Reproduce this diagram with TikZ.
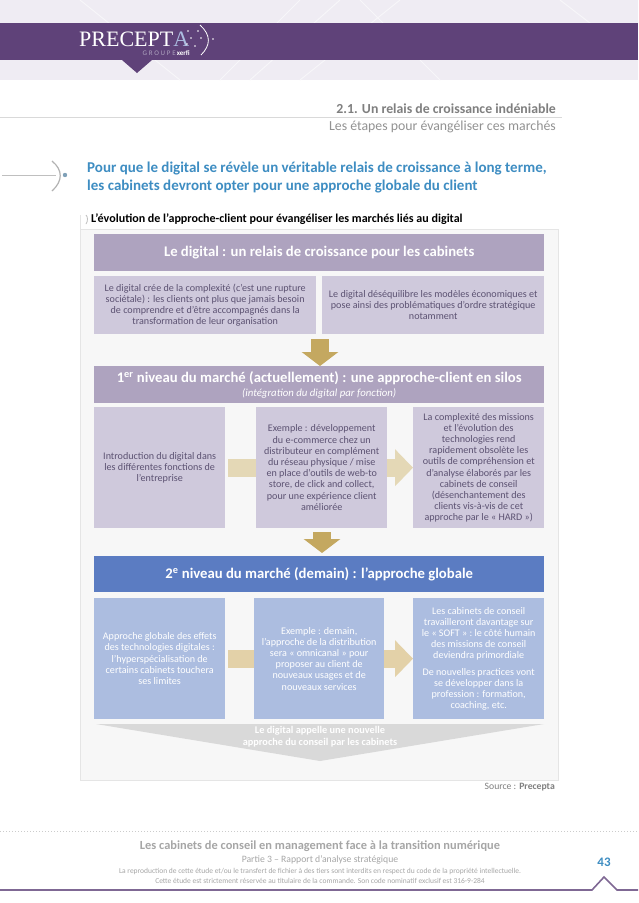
\documentclass[tikz,border=0pt]{standalone}
\usepackage{fontspec}
\setmainfont{Carlito}
\newfontfamily\logofont{Liberation Serif}
\usetikzlibrary{arrows.meta,positioning,calc}

\definecolor{bandpurple}{HTML}{5F4279}
\definecolor{headpale}{HTML}{EFECF3}
\definecolor{mauvedark}{HTML}{AEA3BF}
\definecolor{mauvelight}{HTML}{CFC9DC}
\definecolor{bluedark}{HTML}{5B7CC2}
\definecolor{bluelight}{HTML}{ACBDE0}
\definecolor{goldfull}{HTML}{C4A860}
\definecolor{goldpale}{HTML}{E4D8B6}
\definecolor{goldmid}{HTML}{E3D1A8}
\definecolor{titleblue}{HTML}{3E8DC2}
\definecolor{mauvetext}{HTML}{5C5272}
\definecolor{greytext}{HTML}{7F7F7F}
\definecolor{footgrey}{HTML}{A6A6A6}

\tikzset{
    x=1pt, y=-1pt,
    band/.style={anchor=north west, inner sep=0pt, minimum width=450pt, minimum height=37pt, fill=mauvedark,
        text=white, align=center, font=\fontsize{14.7}{15}\selectfont\bfseries},
    pale/.style={anchor=north west, inner sep=0pt, fill=mauvelight, text=mauvetext, align=center,
        font=\fontsize{10.1}{11.2}\selectfont},
    paleblue/.style={pale, fill=bluelight, text=white},
    downarrow/.style={draw=goldfull, line width=18pt, -{Triangle[width=36pt,length=14pt,color=goldfull]}},
    sidearrow/.style={line width=18pt, -{Triangle[width=36pt,length=18pt]}},
    plainarrow/.style={line width=18pt},
    foot/.style={text=footgrey, align=center}
}

\begin{document}
\begin{tikzpicture}
    \useasboundingbox (0,0) rectangle (638,903);
    \fill[white] (0,0) rectangle (638,903);

    % Header
    \fill[headpale] (0,0) rectangle (638,80);
    \draw[white!50!headpale, line width=1pt] (80,0) -- (180,80) (300,0) -- (220,80) (250,80) -- (340,0) (300,80) -- (400,0) (360,0) -- (440,80) (560,0) -- (638,60);
    \fill[bandpurple] (0,22.5) rectangle (638,60);
    \fill[bandpurple] (122,60) -- (152,60) -- (137,73) -- cycle;
    \node[anchor=west, inner sep=0pt, text=white, font=\logofont\fontsize{22}{24}\selectfont] (logo) at (79,39.5) {PRECEPT\textcolor{bluelight}{A}};
    \node[anchor=east, inner sep=0pt, font=\fontsize{7}{8}\selectfont] (group) at (190,53.5) {\textcolor{mauvedark}{\addfontfeature{LetterSpace=25}GROUPE}\,\textcolor{white}{\textbf{xerfi}}};
    \draw[white, line width=0.8pt] (200,25) .. controls (211,35) and (211,45) .. (201,55);
    \foreach \x/\y in {188/31, 198/31, 191/38, 201/38, 195/46, 187/44, 213/39}
        \fill[white] (\x,\y) circle (0.9);

    % Section title
    \draw[black!15] (0,117) -- (562,117);
    \node[anchor=east, inner sep=0pt, text=greytext, font=\fontsize{13.8}{15}\selectfont\bfseries] (section) at (556,108.5) {2.1. Un relais de croissance indéniable};
    \node[anchor=east, inner sep=0pt, text=greytext!85, font=\fontsize{13.8}{15}\selectfont] (subsection) at (556,127) {Les étapes pour évangéliser ces marchés};

    % Lead text
    \draw[black!25] (2,175) -- (56,175);
    \draw[black!30, line width=1.2pt] (52,161) .. controls (63,170) and (63,181) .. (52,191);
    \fill[titleblue!70!black!60] (65,175) circle (2.2);
    \node[anchor=north west, inner sep=0pt, text=titleblue, align=left, font=\fontsize{15}{18}\selectfont\bfseries] (lead) at (87,162)
        {Pour que le digital se révèle un véritable relais de croissance à long terme,\\les cabinets devront opter pour une approche globale du client};
    \node[anchor=west, inner sep=0pt, font=\fontsize{12.05}{14}\selectfont\bfseries] (caption) at (91,219) {L’évolution de l’approche-client pour évangéliser les marchés liés au digital};
    \draw[black!25, line width=0.8pt] (86,215) .. controls (88,217) and (88,221) .. (86,224);

    % Main panel
    \fill[black!3] (80,229) rectangle (558,780);
    \draw[black!10] (80,215) -- (80,780) -- (558,780) -- (558,229) -- (80,229);

    % First level
    \node[band] (relais) at (94,234) {Le digital : un relais de croissance pour les cabinets};
    \node[pale, minimum width=222pt, minimum height=58pt] (complexite) at (94,276)
        {Le digital crée de la complexité (c’est une rupture\\sociétale) : les clients ont plus que jamais besoin\\de comprendre et d’être accompagnés dans la\\transformation de leur organisation};
    \node[pale, minimum width=222pt, minimum height=58pt] (modeles) at (322,276)
        {Le digital déséquilibre les modèles économiques et\\pose ainsi des problématiques d’ordre stratégique\\notamment};

    % Second level
    \node[band] (silos) at (94,366) {1\textsuperscript{er} niveau du marché (actuellement) : une approche-client en silos\\[-1pt]
        {\fontsize{10.8}{11}\selectfont\mdseries\itshape (intégration du digital par fonction)}};
    \node[pale, minimum width=131pt, minimum height=121pt] (intro) at (94,407)
        {Introduction du digital dans\\les différentes fonctions de\\l’entreprise};
    \node[pale, minimum width=131pt, minimum height=121pt] (exemple) at (256,407)
        {Exemple : développement\\du e-commerce chez un\\distributeur en complément\\du réseau physique / mise\\en place d’outils de web-to\\store, de click and collect,\\pour une expérience client\\améliorée};
    \node[pale, minimum width=131pt, minimum height=121pt] (hard) at (413,407)
        {La complexité des missions\\et l’évolution des\\technologies rend\\rapidement obsolète les\\outils de compréhension et\\d’analyse élaborés par les\\cabinets de conseil\\(désenchantement des\\clients vis-à-vis de cet\\approche par le « HARD »)};

    % Third level
    \node[band, fill=bluedark, minimum height=36pt] (globale) at (94,556) {2\textsuperscript{e} niveau du marché (demain) : l’approche globale};
    \node[paleblue, minimum width=131pt, minimum height=121pt] (effets) at (94,598)
        {Approche globale des effets\\des technologies digitales :\\l’hyperspécialisation de\\certains cabinets touchera\\ses limites};
    \node[paleblue, minimum width=130pt, minimum height=121pt] (omnicanal) at (254,598)
        {Exemple : demain,\\l’approche de la distribution\\sera « omnicanal » pour\\proposer au client de\\nouveaux usages et de\\nouveaux services};
    \node[paleblue, minimum width=131pt, minimum height=121pt] (soft) at (413,598)
        {Les cabinets de conseil\\travailleront davantage sur\\le « SOFT » : le côté humain\\des missions de conseil\\deviendra primordiale\\[5pt]De nouvelles practices vont\\se développer dans la\\profession : formation,\\coaching, etc.};

    % Arrows
    \coordinate (dropa) at (320,334);
    \coordinate (dropb) at (322,528);
    \draw[downarrow, shorten <=5pt] (dropa) -- (dropa |- silos.north);
    \draw[downarrow, line width=18pt, shorten <=4pt, shorten >=3pt] (dropb) -- (dropb |- globale.north);
    \draw[plainarrow, goldpale, shorten <=3pt] (intro.east) -- (exemple.west);
    \draw[sidearrow, goldpale] (exemple.east) -- (hard.west);
    \draw[plainarrow, goldmid, shorten <=3pt] (effets.east) -- (omnicanal.west);
    \draw[sidearrow, goldmid] (omnicanal.east) -- (soft.west);

    % Conclusion
    \fill[black!15] (96,724) -- (544,724) -- (320,761) -- cycle;
    \node[anchor=north, inner sep=0pt, text=white, align=center, font=\fontsize{10.3}{12.3}\selectfont\bfseries] (appel) at (320,726)
        {Le digital appelle une nouvelle\\approche du conseil par les cabinets};
    \node[anchor=east, inner sep=0pt, text=greytext, font=\fontsize{9.7}{11}\selectfont] (source) at (555,787) {Source : \textbf{Precepta}};

    % Footer
    \draw[black!20, line width=1pt, dotted] (0,831) -- (638,831);
    \node[foot, inner sep=0pt, font=\fontsize{12.4}{14}\selectfont\bfseries] (etude) at (320,846) {Les cabinets de conseil en management face à la transition numérique};
    \node[foot, inner sep=0pt, font=\fontsize{9.7}{11}\selectfont] (partie) at (320,860) {Partie 3 – Rapport d’analyse stratégique};
    \foreach \y/\name/\txt in {871/droitsa/{La reproduction de cette étude et/ou le transfert de fichier à des tiers sont interdits en respect du code de la propriété intellectuelle.}, 881/droitsb/{Cette étude est strictement réservée au titulaire de la commande. Son code nominatif exclusif est 316-9-284}}
        \node[foot, inner sep=0pt, font=\fontsize{7.5}{8}\selectfont] (\name) at (320,\y) {\txt};
    \node[inner sep=0pt, text=titleblue, font=\fontsize{13}{15}\selectfont\bfseries] (page) at (604,862) {43};
    \draw[bandpurple!80, line width=1.6pt] (0,890) -- (592,890) -- (604,877) -- (617,890) -- (638,890);
\end{tikzpicture}
\end{document}
